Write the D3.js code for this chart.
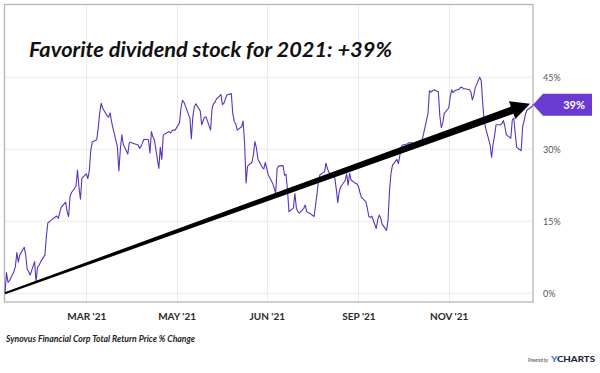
<!DOCTYPE html>
<html><head><meta charset="utf-8">
<script src="https://cdn.jsdelivr.net/npm/d3@7"></script>
<style>body{margin:0;background:#fff}svg{display:block}</style>
</head><body><svg id="c" width="600" height="373"></svg>
<script>
// ---- data ----
const startDate = "2021-01-05";
const endDate = "2021-12-28";
// daily (trading-day) total return % change
const values = [
 0,4.3,2.3,2.6,4.5,5.5,8.5,6.5,8.0,9.6,8.0,5.0,4.5,3.8,6.6,2.4,5.5,5.8,6.5,8.0,
 12.0,14.7,14.9,15.2,15.9,16.1,15.6,16.8,17.9,19.0,17.0,16.0,20.2,21.0,22.3,25.7,22.2,19.6,24.0,24.9,
 23.9,25.5,29.8,31.5,32.0,34.3,37.5,39.6,38.6,37.0,36.7,37.6,35.8,34.4,30.5,25.5,30.0,33.0,31.0,29.0,
 31.3,31.5,31.3,31.2,30.9,30.2,30.6,31.4,32.1,32.0,29.2,
 33.7,32.6,32.0,26.0,30.4,27.9,32.9,33.2,33.7,33.4,33.9,34.0,34.0,35.5,38.6,40.2,39.8,39.0,36.5,
 32.2,36.8,38.8,39.5,38.0,35.1,36.0,36.7,36.7,34.0,38.5,39.5,39.8,40.5,41.4,39.3,39.6,40.5,41.3,41.6,
 37.5,35.8,35.3,34.0,34.7,35.9,31.3,23.0,26.5,27.3,29.0,31.6,30.3,28.0,26.2,25.9,27.3,26.0,24.7,22.9,
 21.9,20.9,26.0,26.5,26.6,24.6,24.8,21.5,17.0,17.8,20.8,17.8,17.0,
 16.7,17.7,18.4,17.0,16.8,16.7,16.0,18.4,20.8,23.6,24.7,25.3,27.1,26.0,25.2,24.9,24.0,21.7,18.9,21.2,
 22.2,23.5,24.9,22.5,25.0,23.6,22.9,22.8,22.2,21.0,20.0,19.1,17.7,16.0,15.8,16.1,13.5,15.3,16.3,15.7,
 14.4,13.1,15.3,21.5,25.0,26.7,27.9,27.0,28.8,30.6,30.9,31.1,31.4,31.3,31.4,30.8,30.4,31.1,31.5,31.9,
 33.2,37.5,42.2,41.9,42.2,42.4,42.0,37.0,34.5,35.5,37.5,38.6,
 40.8,42.4,41.8,42.2,42.5,42.9,42.9,42.6,42.6,42.4,41.9,40.3,41.3,42.9,45.0,44.3,39.6,35.8,34.4,30.9,
 28.3,31.1,32.8,35.1,35.1,35.4,36.0,34.7,33.0,32.3,36.1,36.5,33.3,30.4,29.7,34.7,36.0,37.4,38.2,38.8,39.3
];
const yTicks = [0, 15, 30, 45];
const xTickDates = ["2021-03-01", "2021-05-01", "2021-07-01", "2021-09-01", "2021-11-01"];
const xTickLabels = ["MAR '21", "MAY '21", "JUN '21", "SEP '21", "NOV '21"];
const titleText = "Favorite dividend stock for 2021: +39%";
const captionText = "Synovus Financial Corp Total Return Price % Change";
const arrowFrom = {date: "2021-01-05", value: 0};
const arrowTo = {date: "2021-12-26", value: 39.5};

// ---- build ----
const parse = d3.utcParse("%Y-%m-%d");
const days = d3.utcDay.range(parse(startDate), d3.utcDay.offset(parse(endDate), 1))
  .filter(d => d.getUTCDay() !== 0 && d.getUTCDay() !== 6);
const data = values.map((v, i) => ({date: days[Math.min(i, days.length - 1)], value: v}));

const svg = d3.select("#c");
const L = 4.5, R = 533, T = 4.5, B = 302;
const x = d3.scaleUtc().domain([parse(startDate), parse(endDate)]).range([5, 533]);
const y = d3.scaleLinear().domain([0, 45]).range([293.3, 77.3]);

svg.append("rect").attr("width", 600).attr("height", 373).attr("fill", "#fff");

// gridlines
const grid = svg.append("g");
grid.selectAll(".hg").data(yTicks).join("line")
  .attr("x1", L).attr("x2", R).attr("y1", d => y(d)).attr("y2", d => y(d))
  .attr("stroke", "#ebebeb").attr("stroke-width", 1);
grid.selectAll(".vg").data(xTickDates).join("line")
  .attr("x1", d => Math.round(x(parse(d))) + 0.5).attr("x2", d => Math.round(x(parse(d))) + 0.5)
  .attr("y1", T).attr("y2", B)
  .attr("stroke", "#ebebeb").attr("stroke-width", 1);

// frame
svg.append("rect").attr("x", L).attr("y", T).attr("width", R - L).attr("height", B - T)
  .attr("fill", "none").attr("stroke", "#b5b5b5").attr("stroke-width", 1.3);

// x axis labels
const xAxis = d3.axisBottom(x)
  .tickValues(xTickDates.map(parse))
  .tickFormat((d, i) => xTickLabels[i])
  .tickSize(0).tickPadding(0);
const gx = svg.append("g").attr("transform", `translate(0,${B + 14})`).call(xAxis);
gx.select(".domain").remove();
gx.selectAll("text").attr("font-family", "Lato, 'Open Sans', sans-serif")
  .attr("font-size", 10).attr("font-weight", "bold").attr("fill", "#2a2a2a").attr("dy", "0.35em");

// y axis labels
const yAxis = d3.axisRight(y).tickValues(yTicks).tickFormat(d => d + "%").tickSize(0).tickPadding(0);
const gy = svg.append("g").attr("transform", `translate(${R + 10},0)`).call(yAxis);
gy.select(".domain").remove();
gy.selectAll("text").attr("font-family", "Lato, 'Open Sans', sans-serif")
  .attr("font-size", 9).attr("fill", "#555");

// series line
const line = d3.line().x(d => x(d.date)).y(d => y(d.value));
svg.append("path").datum(data).attr("d", line)
  .attr("fill", "none").attr("stroke", "#5a34bb").attr("stroke-width", 1.1)
  .attr("stroke-linejoin", "round");

// arrow annotation (tapered shaft + head)
const p0 = [x(parse(arrowFrom.date)), y(arrowFrom.value)];
const p1 = [x(parse(arrowTo.date)), y(arrowTo.value)];
const dx = p1[0] - p0[0], dy = p1[1] - p0[1], len = Math.hypot(dx, dy);
const u = [dx / len, dy / len], n = [-u[1], u[0]];
const headLen = 19, headHalf = 9.5, w0 = 1.1, w1 = 3.8;
const base = [p1[0] - u[0] * headLen, p1[1] - u[1] * headLen];
const pt = (p, k) => [p[0] + n[0] * k, p[1] + n[1] * k];
const poly = [pt(p0, w0), pt(base, w1), pt(base, headHalf), p1, pt(base, -headHalf), pt(base, -w1), pt(p0, -w0)];
svg.append("path").attr("d", "M" + poly.map(p => p.join(",")).join("L") + "Z").attr("fill", "#000");

// last value flag
const last = data[data.length - 1];
const fy = y(last.value);
svg.append("path")
  .attr("d", `M${R},${fy} L${R + 10},${fy - 11} L592,${fy - 11} L592,${fy + 11} L${R + 10},${fy + 11} Z`)
  .attr("fill", "#6a3bd0");
svg.append("text").attr("x", 585).attr("y", fy + 4).attr("text-anchor", "end")
  .attr("font-family", "Lato, 'Open Sans', sans-serif").attr("font-size", 11).attr("font-weight", "bold")
  .attr("fill", "#fff").text(Math.round(last.value) + "%");

// title
svg.append("text").attr("x", 29).attr("y", 57)
  .attr("font-family", "Lato, 'DejaVu Sans', sans-serif").attr("font-size", 21)
  .attr("font-weight", "bold").attr("font-style", "italic").attr("fill", "#111")
  .attr("textLength", 363).attr("lengthAdjust", "spacingAndGlyphs")
  .text(titleText);

// caption
svg.append("text").attr("x", 6).attr("y", 342)
  .attr("font-family", "Lato, 'Open Sans', sans-serif").attr("font-size", 8.5)
  .attr("font-weight", "bold").attr("font-style", "italic").attr("fill", "#222")
  .attr("textLength", 189).attr("lengthAdjust", "spacingAndGlyphs")
  .text(captionText);

// powered by
svg.append("text").attr("x", 528).attr("y", 362)
  .attr("font-family", "Lato, sans-serif").attr("font-size", 5).attr("font-style", "italic")
  .attr("fill", "#444").attr("textLength", 20).attr("lengthAdjust", "spacingAndGlyphs").text("Powered by");
const yc = svg.append("text").attr("x", 551).attr("y", 362)
  .attr("font-family", "Lato, 'Open Sans', sans-serif").attr("font-size", 7.5).attr("font-weight", "900")
  .attr("textLength", 44).attr("lengthAdjust", "spacingAndGlyphs");
yc.append("tspan").attr("fill", "#2f7fe0").text("Y");
yc.append("tspan").attr("fill", "#1c2741").text("CHARTS");
</script></body></html>
